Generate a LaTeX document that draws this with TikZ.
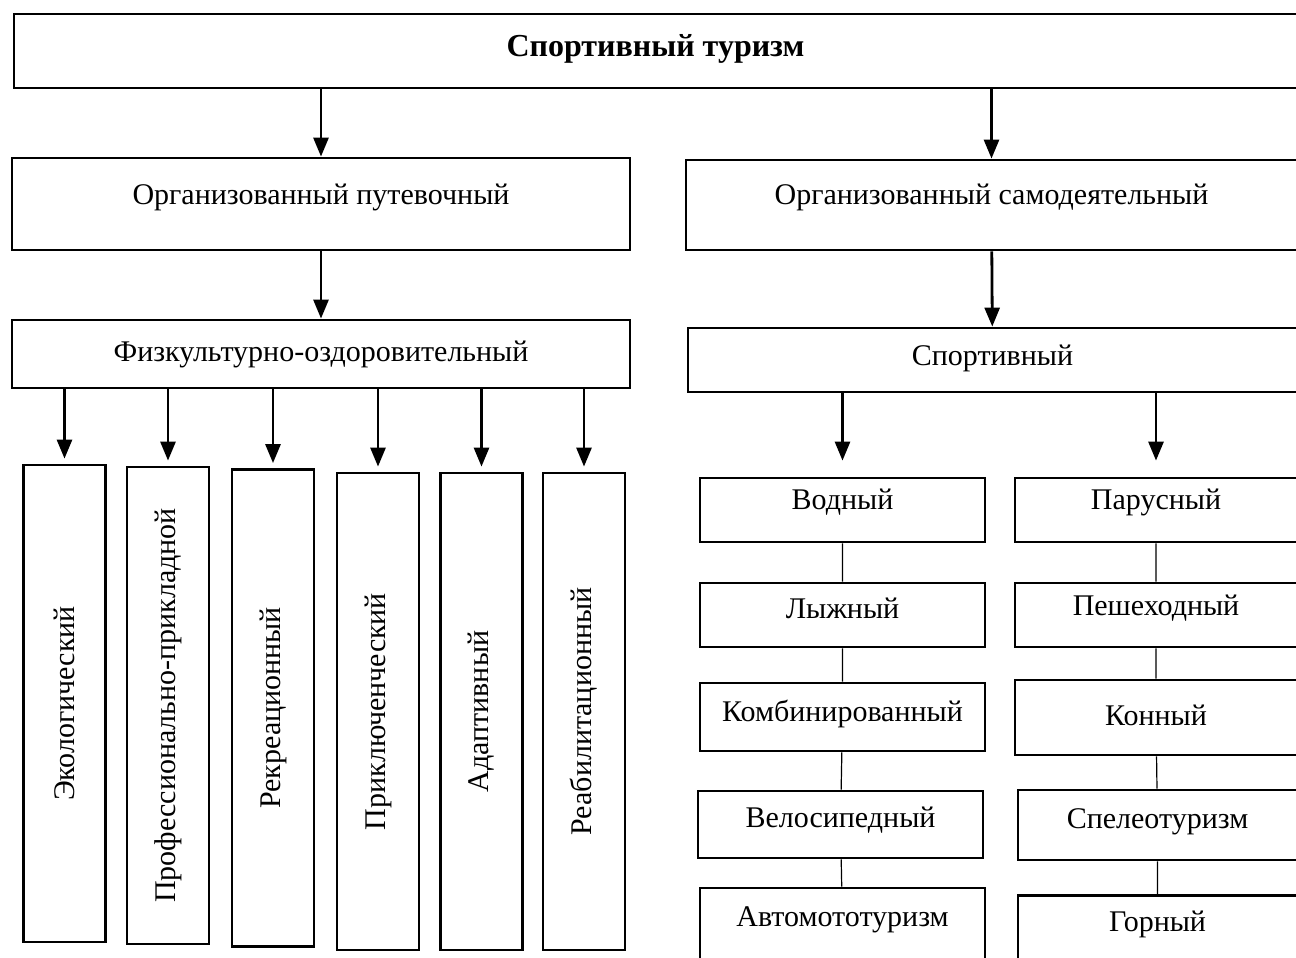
\documentclass[tikz,border=0pt]{standalone}
\usepackage{fontspec}
\setmainfont{Liberation Serif}
\usetikzlibrary{arrows.meta}

\begin{document}
\begin{tikzpicture}[x=1pt, y=-1pt,
    every node/.style={font=\fontsize{30}{36}\selectfont},
    every label/.style={font=\fontsize{30}{36}\selectfont, inner sep=0pt},
    box/.style={draw, line width=2.8pt, inner sep=0pt},
    vbox/.style={box, rotate=90, minimum width=477, minimum height=82},
    arr/.style={line width=2.8pt, -{Triangle[length=19pt, width=15pt]}},
    thin/.style={line width=1.2pt}]

    \useasboundingbox (0,0) rectangle (1296,958);

    \node[box, minimum width=1283, minimum height=74,
      label={[yshift=2]center:\fontsize{32}{38}\selectfont\bfseries Спортивный туризм}] (top) at (655.5,51) {};

    \node[box, minimum width=618, minimum height=92,
      label={[yshift=7]center:Организованный путевочный}] (org1) at (321,204) {};
    \node[box, minimum width=611, minimum height=90,
      label={[yshift=8]center:Организованный самодеятельный}] (org2) at (991.5,205) {};

    \node[box, minimum width=618, minimum height=68,
      label={[yshift=0]center:Физкультурно-оздоровительный}] (fiz) at (321,354) {};
    \node[box, minimum width=609, minimum height=64,
      label={[yshift=2]center:Спортивный}] (sport) at (992.5,360) {};

    % left branch
    \node[vbox] (eko) at (64.5,703.5) {Экологический};
    \node[vbox] (prof) at (168,705.5) {Профессионально-прикладной};
    \node[vbox] (rekr) at (273,708) {Рекреационный};
    \node[vbox] (prik) at (378,711.5) {Приключенческий};
    \node[vbox] (adap) at (481.5,711.5) {Адаптивный};
    \node[vbox] (reab) at (584,711.5) {Реабилитационный};

    % right branch
    \node[box, minimum width=285, minimum height=64,
      label={[yshift=8]center:Водный}] (vod) at (842.5,510) {};
    \node[box, minimum width=285, minimum height=64,
      label={[yshift=7]center:Лыжный}] (lyzh) at (842.5,615) {};
    \node[box, minimum width=285, minimum height=68,
      label={[yshift=3]center:Комбинированный}] (komb) at (842.5,717) {};
    \node[box, minimum width=285, minimum height=67,
      label={[yshift=4]center:Велосипедный}] (velo) at (840.5,824.5) {};
    \node[box, minimum width=285, minimum height=74,
      label={[yshift=5]center:Автомототуризм}] (avto) at (842.5,925) {};

    \node[box, minimum width=282, minimum height=64,
      label={[yshift=8]center:Парусный}] (par) at (1156,510) {};
    \node[box, minimum width=282, minimum height=64,
      label={[yshift=7]center:Пешеходный}] (pesh) at (1156,615) {};
    \node[box, minimum width=282, minimum height=75,
      label={[yshift=2]center:Конный}] (kon) at (1156,717.5) {};
    \node[box, minimum width=279, minimum height=70,
      label={[yshift=3]center:Спелеотуризм}] (spel) at (1157.5,825) {};
    \node[box, minimum width=279, minimum height=69,
      label={[yshift=6]center:Горный}] (gor) at (1157.5,930) {};

    \draw[arr] (org1.north |- top.south) -- (org1.north);
    \draw[arr] (org2.north |- top.south) -- (org2.north);
    \draw[arr] (org1) -- (fiz);
    \draw[arr] (org2) -- (sport);

    \foreach \n in {eko,prof,rekr,prik,adap,reab}
      \draw[arr, shorten >=5pt] (\n.east |- fiz.south) -- (\n.east);

    \draw[arr, shorten >=16pt] (vod.north |- sport.south) -- (vod.north);
    \draw[arr, shorten >=16pt] (par.north |- sport.south) -- (par.north);

    \draw[thin] (vod) -- (lyzh) -- (komb) -- (velo) -- (avto);
    \draw[thin] (par) -- (pesh) -- (kon) -- (spel) -- (gor);
  \end{tikzpicture}
\end{document}
